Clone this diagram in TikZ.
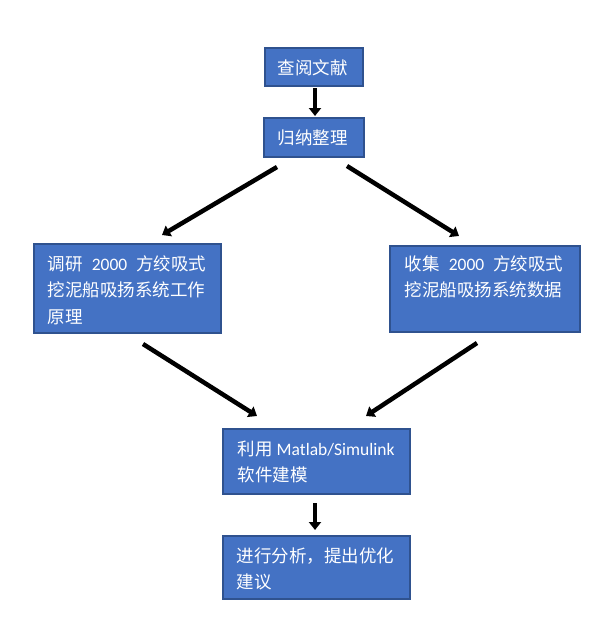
\documentclass[tikz,border=0pt]{standalone}
\usepackage{fontspec}
\setmainfont{Noto Sans CJK SC}
\newfontfamily\latfont{Carlito}
\usetikzlibrary{arrows.meta}
\definecolor{boxfill}{HTML}{4472C4}
\definecolor{boxline}{HTML}{2F528F}
\newcommand\bxt[5]{\parbox[t][#2][t]{#1}{\vspace*{#4}\hspace*{#3}\begin{minipage}[t]{\dimexpr#1-#3\relax}\raggedright #5\end{minipage}}}
\newcommand\gp{\hspace{9pt}}
\begin{document}
\begin{tikzpicture}[x=1pt,y=-1pt,
  box/.style={draw=boxline, line width=1.6pt, fill=boxfill, text=white, inner sep=0pt,
    anchor=north west, font=\fontsize{17.5}{26.5}\selectfont},
  arr/.style={line width=4.5pt, draw=black, -{Triangle[length=8pt,width=12pt]}}]
\useasboundingbox (0,0) rectangle (609,632);
\fill[white] (0,0) rectangle (609,632);
\node[box] (b1) at (264,47) {\bxt{98pt}{38pt}{13pt}{12pt}{查阅文献}};
\node[box] (b2) at (263,117) {\bxt{100pt}{39pt}{14pt}{12pt}{归纳整理}};
\node[box] (b3) at (33,243) {\bxt{187pt}{89pt}{14pt}{11.5pt}{调研\gp{\latfont 2000}\gp 方绞吸式\\挖泥船吸扬系统工作\\原理}};
\node[box] (b4) at (389,245) {\bxt{190pt}{86pt}{15pt}{9.5pt}{收集\gp{\latfont 2000}\gp 方绞吸式\\挖泥船吸扬系统数据}};
\node[box] (b5) at (222,428) {\bxt{187pt}{65pt}{15pt}{12pt}{利用 {\latfont Matlab/Simulink}\\软件建模}};
\node[box] (b6) at (222,535) {\bxt{187pt}{63pt}{14pt}{11.5pt}{进行分析，提出优化\\建议}};
\coordinate (a1s) at (315,88);
\coordinate (a1e) at (315,116);
\coordinate (a2s) at (277,167);
\coordinate (a2e) at (162,235);
\coordinate (a3s) at (347,166);
\coordinate (a3e) at (459,236);
\coordinate (a4s) at (143,344);
\coordinate (a4e) at (257,416);
\coordinate (a5s) at (477,343);
\coordinate (a5e) at (366,416);
\coordinate (a6s) at (315,503);
\coordinate (a6e) at (315,530);
\draw[arr] (a1s) -- (a1e);
\draw[arr] (a2s) -- (a2e);
\draw[arr] (a3s) -- (a3e);
\draw[arr] (a4s) -- (a4e);
\draw[arr] (a5s) -- (a5e);
\draw[arr] (a6s) -- (a6e);
\end{tikzpicture}
\end{document}
